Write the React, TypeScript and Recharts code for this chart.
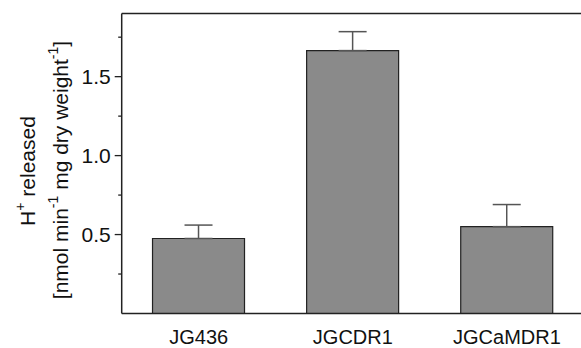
import { BarChart, Bar, XAxis, YAxis, ErrorBar, ReferenceLine } from 'recharts';

const strains: string[] = ['JG436', 'JGCDR1', 'JGCaMDR1'];
const released: number[] = [0.475, 1.665, 0.55];
const sem: number[] = [0.085, 0.12, 0.14];
const yTicks: number[] = [0.25, 0.5, 0.75, 1.0, 1.25, 1.5, 1.75];
const labelledTicks: number[] = [0.5, 1.0, 1.5];

// error bars only go up
const chartData = strains.map((s, i) => ({ strain: s, value: released[i], err: [0, sem[i]] }));

const font = 'Liberation Sans, Arial, sans-serif';
const ink = '#222';

const YTick = (props: any) => {
  const { x, y, payload } = props;
  const major = labelledTicks.includes(payload.value);
  return (
    <g>
      <line x1={x - (major ? 7 : 3.5)} x2={x} y1={y} y2={y} stroke={ink} strokeWidth={1.3} />
      {major && (
        <text x={x - 11} y={y} dy="0.35em" textAnchor="end" fontSize={21} fontFamily={font} fill="#111">
          {payload.value.toFixed(1)}
        </text>
      )}
    </g>
  );
};

const YLabel = () => (
  <g fontFamily={font} fontSize={21} fill="#111">
    <text x={27} y={171} textAnchor="middle" dominantBaseline="central" transform="rotate(-90, 27, 171)">
      H<tspan dy={-7} fontSize={14}>+</tspan>
      <tspan dy={7}> released</tspan>
    </text>
    <text x={60} y={170} textAnchor="middle" dominantBaseline="central" transform="rotate(-90, 60, 170)">
      [nmol min<tspan dy={-7} fontSize={14}>-1</tspan>
      <tspan dy={7}> mg dry weight</tspan>
      <tspan dy={-7} fontSize={14}>-1</tspan>
      <tspan dy={7}>]</tspan>
    </text>
  </g>
);

const App = () => {
  return (
    <div style={{ position: 'absolute', left: 0, top: 0, width: 581, height: 348, overflow: 'hidden', background: '#fff' }}>
      <BarChart
        width={600}
        height={348}
        data={chartData}
        margin={{ top: 13.5, right: 16, left: 0, bottom: 0 }}
        barCategoryGap="20%"
      >
        <XAxis
          dataKey="strain"
          height={34.5}
          tickLine={false}
          tickSize={0}
          tickMargin={16}
          axisLine={{ stroke: ink, strokeWidth: 1.5 }}
          tick={{ fontSize: 20, fontFamily: font, fill: '#111' }}
        />
        <YAxis
          width={121.7}
          domain={[0, 1.9]}
          ticks={yTicks}
          tickLine={false}
          tickSize={0}
          tickMargin={0}
          axisLine={{ stroke: ink, strokeWidth: 1.5 }}
          tick={YTick}
          label={{ content: YLabel }}
        />
        <ReferenceLine y={1.9} stroke={ink} strokeWidth={1.5} />
        <Bar dataKey="value" fill="#8a8a8a" stroke={ink} strokeWidth={1.2} isAnimationActive={false}>
          <ErrorBar dataKey="err" direction="y" width={14} stroke="#555" strokeWidth={1.5} isAnimationActive={false} />
        </Bar>
      </BarChart>
    </div>
  );
};

export default App;
